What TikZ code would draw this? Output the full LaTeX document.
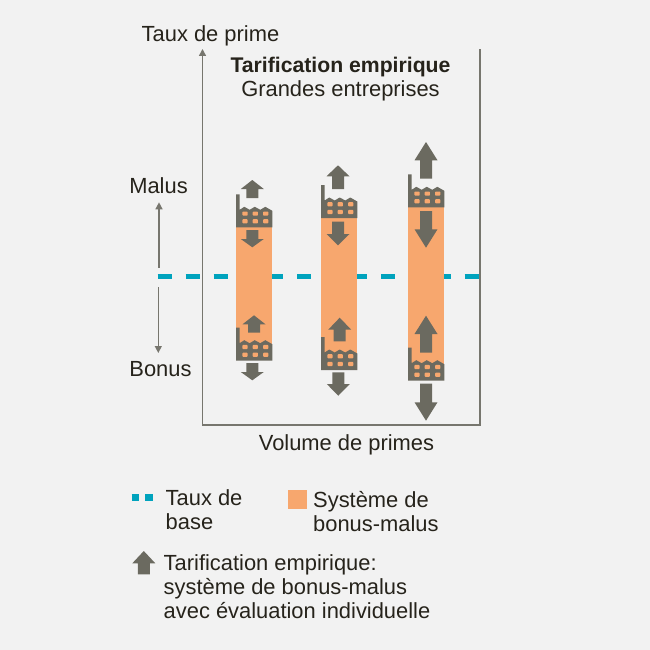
\documentclass[tikz,border=0pt]{standalone}
\usepackage{fontspec}
\setmainfont{Liberation Sans}
\usetikzlibrary{arrows.meta, positioning}
\definecolor{backdrop}{HTML}{F2F2F2}
\definecolor{inkdark}{HTML}{26231B}
\definecolor{stone}{HTML}{6B6A60}
\definecolor{axisgray}{HTML}{77766E}
\definecolor{bonusorange}{HTML}{F7A76E}
\definecolor{baseteal}{HTML}{00A3BD}
% factory: left x, bottom y
\newcommand{\factory}[2]{
  \fill[stone] (#1,#2) -- ++(0,-33) -- ++(3.6,0) -- ++(0,15.5) -- ++(4.7,-3) -- ++(5.4,3)
    -- ++(5,-3) -- ++(5.6,3) -- ++(5,-3) -- ++(7,4) -- (#1+36.3,#2) -- cycle;
  \foreach \wx in {9,19.3,29.7}
    \foreach \wy in {-13.7,-6}
      \fill[bonusorange, rounded corners=0.8pt] (#1+\wx-2.6,#2+\wy-2.1) rectangle ++(5.2,4.2);
}
% block arrow: centre x, tail y, head base y, tip y
\newcommand{\blockarrow}[4]{
  \fill[stone] (#1-6,#2) -- (#1+6,#2) -- (#1+6,#3) -- (#1+11.5,#3) -- (#1,#4)
    -- (#1-11.5,#3) -- (#1-6,#3) -- cycle;
}
\begin{document}
\begin{tikzpicture}[
    x=1pt, y=-1pt,
    every node/.style={font=\fontsize{21.9}{24}\selectfont, text=inkdark, inner sep=0pt},
    axis/.style={draw=axisgray, line width=1.5pt},
    scalearrow/.style={draw=axisgray, line width=1.3pt, -{Triangle[length=7pt, width=7pt]}},
    barbox/.style={fill=bonusorange},
    baseline/.style={draw=baseteal, line width=5pt}
]
\useasboundingbox[fill=backdrop] (0,0) rectangle (650,650);

% Axes
\coordinate (origin) at (202.5,425);
\coordinate (ytop) at (202.5,49);
\coordinate (xend) at (480,425);
\coordinate (frametop) at (480,49);
\draw[axis, {Triangle[length=7pt, width=7pt]}-] (ytop) -- (origin) -- (xend) -- (frametop);

% Labels
\node (ylabel) at (210.5,36) {Taux de prime};
\node[font=\fontsize{21.2}{24}\selectfont\bfseries] (title) at (340.5,67) {Tarification empirique};
\node (subtitle) at (340.5,91) {Grandes entreprises};
\node (xlabel) at (346.5,445) {Volume de primes};
\node (malus) at (158.5,186) {Malus};
\node (bonus) at (160.5,369.5) {Bonus};

% Malus / bonus scale
\coordinate (scaleup) at (159,267.7);
\coordinate (scaletop) at (159,202.3);
\coordinate (scaledown) at (158.3,287);
\coordinate (scalebot) at (158.3,353);
\draw[scalearrow] (scaleup) -- (scaletop);
\draw[scalearrow] (scaledown) -- (scalebot);

% Base rate
\coordinate (basestart) at (157.7,276);
\coordinate (baseend) at (478.6,276);
\draw[baseline, dash pattern=on 14pt off 13.9pt] (basestart) -- (baseend);

% Bars
\fill[barbox] (236,220) rectangle (272,350);
\fill[barbox] (321,210) rectangle (357.3,360);
\fill[barbox] (408,200) rectangle (444,370);

% Factories
\factory{236}{227.3}
\factory{236}{360.7}
\factory{321}{218}
\factory{321}{370}
\factory{408}{207.3}
\factory{408}{380.7}

% Arrows
\blockarrow{252.3}{198}{189}{180}
\blockarrow{252.3}{230}{239}{247.3}
\blockarrow{254}{332.7}{324.3}{315.3}
\blockarrow{252.3}{363}{372}{380.3}

\blockarrow{338}{189}{176.3}{165.3}
\blockarrow{338}{221.7}{234}{245.3}
\blockarrow{339.7}{341.3}{329.7}{317.7}
\blockarrow{338.3}{372.3}{384}{395.7}

\blockarrow{426}{178.7}{160.3}{142}
\blockarrow{426}{211}{229.3}{247.7}
\blockarrow{426}{352.7}{334}{315.7}
\blockarrow{426}{383.7}{402.3}{420.7}

% Legend
\coordinate (keystart) at (131.7,497);
\coordinate (keyend) at (153,497);
\draw[draw=baseteal, line width=7pt, dash pattern=on 7.6pt off 5.7pt] (keystart) -- (keyend);
\node[align=left, anchor=north west] (keybase) at (165.5,489) {Taux de\\base};
\fill[barbox] (287.7,490) rectangle (306.7,509);
\node[align=left, anchor=north west] (keybonus) at (313,491) {Système de\\bonus-malus};
\blockarrow{143.8}{574.3}{563.3}{551}
\node[align=left, anchor=north west] (keyrate) at (163.5,554.3) {Tarification empirique:\\système de bonus-malus\\avec évaluation individuelle};
\end{tikzpicture}
\end{document}
